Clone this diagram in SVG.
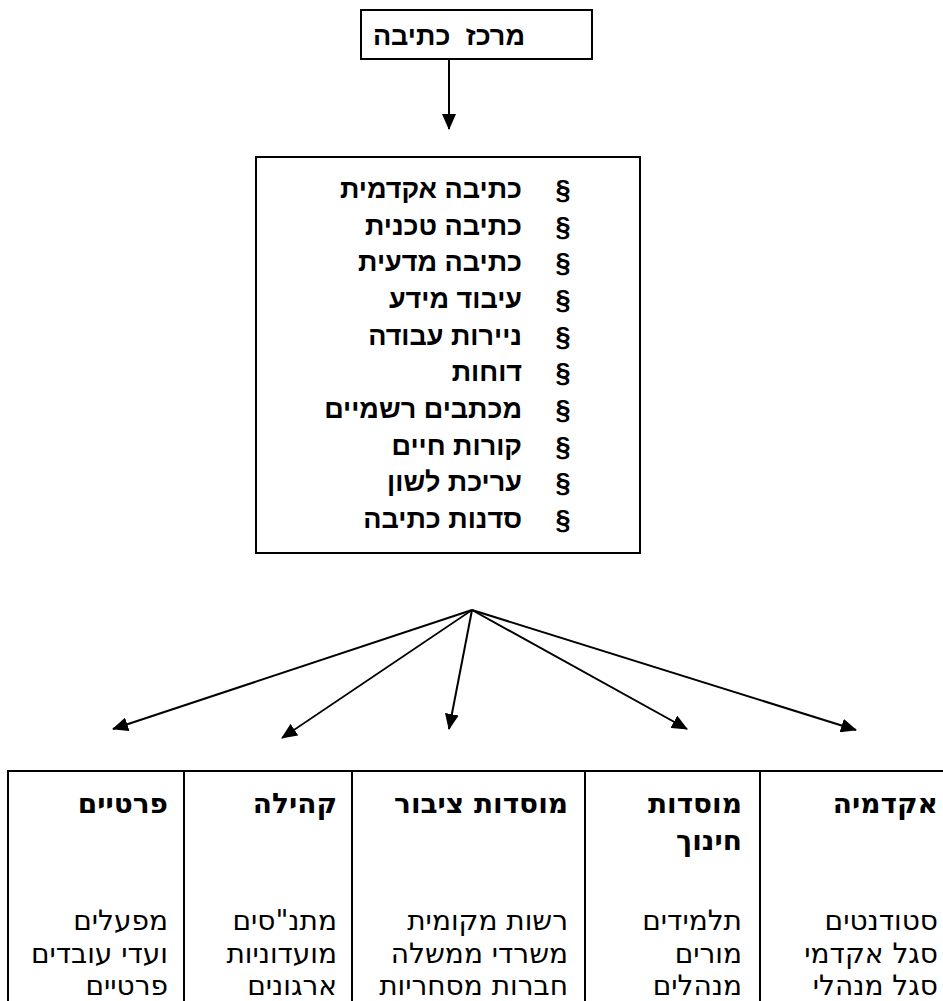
<svg xmlns="http://www.w3.org/2000/svg" width="943" height="1001" viewBox="0 0 943 1001">
<defs>
<style>
.box{fill:#fff;stroke:#000;stroke-width:2}
.b{font-family:"Liberation Sans","DejaVu Sans",sans-serif;font-weight:bold;font-size:27px;fill:#000}
.sec{font-family:"Liberation Sans","DejaVu Sans",sans-serif;font-weight:bold;font-size:27px;fill:#000;text-anchor:middle}
.th{font-family:"DejaVu Sans",sans-serif;font-weight:bold;font-size:28px;fill:#000;text-anchor:end}
.td{font-family:"DejaVu Sans",sans-serif;font-size:28px;fill:#000;text-anchor:end}
.grid{stroke:#000;stroke-width:2;fill:none}
.arr{stroke:#000;stroke-width:2;fill:none;marker-end:url(#ah)}
</style>
<marker id="ah" viewBox="0 0 16 14" refX="15" refY="7" markerWidth="16" markerHeight="14" markerUnits="userSpaceOnUse" orient="auto">
<path d="M0,0 L16,7 L0,14 z" fill="#000"/>
</marker>
</defs>
<rect width="943" height="1001" fill="#fff"/>

<g id="node-center">
<rect class="box" x="361" y="10" width="231" height="49"/>
<text class="b" x="525" y="45" text-anchor="end" word-spacing="8">מרכז כתיבה</text>
</g>

<g id="node-services">
<rect class="box" x="256" y="157" width="384" height="396"/>
<g class="sec">
<text x="563" y="199">§</text>
<text x="563" y="235.7">§</text>
<text x="563" y="272.3">§</text>
<text x="563" y="309">§</text>
<text x="563" y="345.7">§</text>
<text x="563" y="382.3">§</text>
<text x="563" y="419">§</text>
<text x="563" y="455.7">§</text>
<text x="563" y="492.3">§</text>
<text x="563" y="529">§</text>
</g>
<g class="b" text-anchor="end">
<text x="522" y="198">כתיבה אקדמית</text>
<text x="522" y="234.7">כתיבה טכנית</text>
<text x="522" y="271.3">כתיבה מדעית</text>
<text x="522" y="308">עיבוד מידע</text>
<text x="522" y="344.7">ניירות עבודה</text>
<text x="522" y="381.3">דוחות</text>
<text x="522" y="418">מכתבים רשמיים</text>
<text x="522" y="454.7">קורות חיים</text>
<text x="522" y="491.3">עריכת לשון</text>
<text x="522" y="528">סדנות כתיבה</text>
</g>
</g>

<g id="connectors">
<line class="arr" x1="449" y1="59" x2="449" y2="129"/>
<line class="arr" x1="472" y1="610" x2="113" y2="729"/>
<line class="arr" x1="472" y1="610" x2="282" y2="738" style="stroke-width:1.6"/>
<line class="arr" x1="472" y1="610" x2="449" y2="729"/>
<line class="arr" x1="472" y1="610" x2="687" y2="729"/>
<line class="arr" x1="472" y1="610" x2="856" y2="730"/>
</g>

<g id="table">
<path class="grid" d="M950,771 H8 V1010"/>
</g>

<g id="node-private">
<line class="grid" x1="184" y1="771" x2="184" y2="1010"/>
<text class="th" x="168" y="813">פרטיים</text>
<text class="td" x="168" y="930">מפעלים</text>
<text class="td" x="168" y="962.5">ועדי עובדים</text>
<text class="td" x="168" y="995">פרטיים</text>
</g>

<g id="node-community">
<line class="grid" x1="352" y1="771" x2="352" y2="1010"/>
<text class="th" x="337" y="813">קהילה</text>
<text class="td" x="337" y="930">מתנ"סים</text>
<text class="td" x="337" y="962.5">מועדוניות</text>
<text class="td" x="337" y="995">ארגונים</text>
</g>

<g id="node-public">
<line class="grid" x1="585" y1="771" x2="585" y2="1010"/>
<text class="th" x="568" y="813">מוסדות ציבור</text>
<text class="td" x="568" y="930">רשות מקומית</text>
<text class="td" x="568" y="962.5">משרדי ממשלה</text>
<text class="td" x="568" y="995">חברות מסחריות</text>
</g>

<g id="node-education">
<line class="grid" x1="760" y1="771" x2="760" y2="1010"/>
<text class="th" x="742" y="813">מוסדות</text>
<text class="th" x="742" y="850">חינוך</text>
<text class="td" x="742" y="930">תלמידים</text>
<text class="td" x="742" y="962.5">מורים</text>
<text class="td" x="742" y="995">מנהלים</text>
</g>

<g id="node-academia">
<text class="th" x="938" y="813">אקדמיה</text>
<text class="td" x="938" y="930">סטודנטים</text>
<text class="td" x="938" y="962.5">סגל אקדמי</text>
<text class="td" x="938" y="995">סגל מנהלי</text>
</g>
</svg>
